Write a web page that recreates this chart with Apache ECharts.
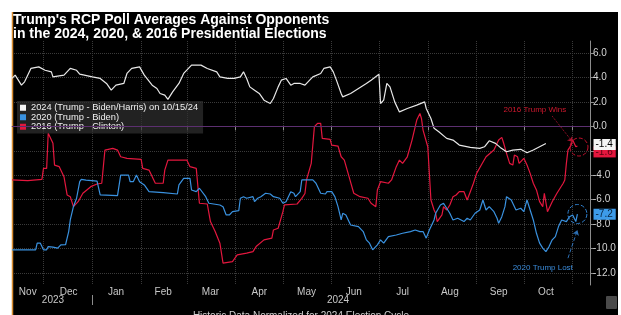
<!DOCTYPE html>
<html>
<head>
<meta charset="utf-8">
<title>Trump RCP Poll Averages</title>
<script src="https://cdn.jsdelivr.net/npm/echarts@6/dist/echarts.min.js"></script>
<style>
html, body { margin: 0; padding: 0; background: #fff; }
#chart { width: 621px; height: 315px; }
</style>
</head>
<body>
<div id="chart"></div>
<script>
// values, normalised to the 2024 calendar
var trump2024 = [
    ['2023-11-11', 3.93], ['2023-11-13', 4.2], ['2023-11-17', 3.38], ['2023-11-19', 3.65], ['2023-11-23', 4.75],
    ['2023-11-28', 4.88], ['2023-12-02', 4.6], ['2023-12-06', 4.47], ['2023-12-07', 4.06], ['2023-12-14', 4.2],
    ['2023-12-18', 4.75], ['2023-12-22', 4.6], ['2023-12-24', 4.28], ['2024-01-01', 4.06], ['2024-01-06', 3.93],
    ['2024-01-10', 3.52], ['2024-01-13', 2.97], ['2024-01-16', 3.38], ['2024-01-21', 3.52], ['2024-01-23', 4.34],
    ['2024-01-26', 4.75], ['2024-01-31', 4.88], ['2024-02-01', 5.02], ['2024-02-03', 4.2], ['2024-02-08', 3.38],
    ['2024-02-11', 3.11], ['2024-02-13', 2.7], ['2024-02-16', 2.56], ['2024-02-18', 2.21], ['2024-02-21', 2.83],
    ['2024-02-25', 3.52], ['2024-02-28', 4.34], ['2024-03-04', 5.02], ['2024-03-10', 5.02], ['2024-03-14', 4.75],
    ['2024-03-20', 4.47], ['2024-03-22', 4.06], ['2024-03-27', 3.93], ['2024-03-31', 3.93], ['2024-04-04', 4.06],
    ['2024-04-06', 4.47], ['2024-04-08', 3.93], ['2024-04-10', 3.24], ['2024-04-13', 2.97], ['2024-04-16', 2.7],
    ['2024-04-19', 2.15], ['2024-04-23', 1.88], ['2024-04-25', 2.29], ['2024-04-28', 3.24], ['2024-04-30', 3.79],
    ['2024-05-03', 3.93], ['2024-05-06', 3.38], ['2024-05-08', 3.52], ['2024-05-12', 3.52], ['2024-05-15', 3.38],
    ['2024-05-18', 3.79], ['2024-05-20', 4.06], ['2024-05-25', 4.34], ['2024-05-27', 4.75], ['2024-05-31', 4.88],
    ['2024-06-02', 4.47], ['2024-06-04', 3.79], ['2024-06-07', 2.7], ['2024-06-08', 2.42], ['2024-06-13', 2.7],
    ['2024-06-18', 3.11], ['2024-06-23', 3.52], ['2024-06-26', 3.79], ['2024-07-01', 4.28], ['2024-07-02', 1.88],
    ['2024-07-04', 2.15], ['2024-07-06', 3.52], ['2024-07-08', 3.24], ['2024-07-11', 2.01], ['2024-07-14', 1.19],
    ['2024-07-19', 1.47], ['2024-07-25', 1.74], ['2024-07-30', 2.01], ['2024-07-31', 1.47], ['2024-08-03', 0.65],
    ['2024-08-05', -0.16], ['2024-08-08', -0.44], ['2024-08-13', -0.98], ['2024-08-17', -1.12], ['2024-08-21', -1.53],
    ['2024-08-28', -1.72], ['2024-09-03', -1.8], ['2024-09-06', -1.67], ['2024-09-09', -1.18], ['2024-09-13', -1.39],
    ['2024-09-16', -1.72], ['2024-09-20', -2.08], ['2024-09-24', -1.94], ['2024-09-29', -1.88], ['2024-10-03', -2.16],
    ['2024-10-07', -1.94], ['2024-10-11', -1.67], ['2024-10-15', -1.4]
];

var trump2020 = [
    ['2023-11-11', -10.12], ['2023-11-26', -10.12], ['2023-11-27', -9.57], ['2023-11-29', -9.57], ['2023-12-01', -10.12],
    ['2023-12-03', -10.12], ['2023-12-04', -9.85], ['2023-12-07', -9.9], ['2023-12-10', -9.98], ['2023-12-12', -9.71],
    ['2023-12-15', -9.7], ['2023-12-16', -9.16], ['2023-12-17', -8.62], ['2023-12-18', -7.67], ['2023-12-20', -6.58],
    ['2023-12-22', -5.89], ['2023-12-24', -4.53], ['2023-12-25', -4.34], ['2023-12-28', -4.4], ['2024-01-04', -4.48],
    ['2024-01-06', -5.62], ['2024-01-17', -5.68], ['2024-01-19', -3.99], ['2024-01-24', -3.99], ['2024-01-25', -4.53],
    ['2024-01-27', -4.53], ['2024-01-29', -3.99], ['2024-01-30', -4.1], ['2024-01-31', -4.53], ['2024-02-03', -4.8],
    ['2024-02-06', -5.35], ['2024-02-15', -5.43], ['2024-02-24', -5.54], ['2024-02-25', -4.8], ['2024-02-28', -4.26],
    ['2024-03-03', -4.26], ['2024-03-04', -5.21], ['2024-03-07', -5.35], ['2024-03-09', -5.07], ['2024-03-13', -5.76],
    ['2024-03-15', -6.3], ['2024-03-22', -6.44], ['2024-03-24', -6.58], ['2024-03-26', -7.26], ['2024-03-28', -7.26],
    ['2024-03-30', -6.99], ['2024-04-03', -6.9], ['2024-04-04', -5.89], ['2024-04-06', -5.76], ['2024-04-08', -5.89],
    ['2024-04-12', -5.76], ['2024-04-13', -6.17], ['2024-04-15', -5.89], ['2024-04-17', -5.76], ['2024-04-20', -5.48],
    ['2024-04-23', -5.54], ['2024-04-25', -5.76], ['2024-04-29', -5.89], ['2024-05-01', -6.3], ['2024-05-03', -6.17],
    ['2024-05-06', -5.35], ['2024-05-08', -5.48], ['2024-05-09', -5.76], ['2024-05-10', -5.62], ['2024-05-12', -5.35],
    ['2024-05-13', -4.39], ['2024-05-20', -4.39], ['2024-05-22', -4.66], ['2024-05-25', -5.48], ['2024-05-28', -5.54],
    ['2024-05-29', -5.35], ['2024-06-01', -5.35], ['2024-06-03', -5.76], ['2024-06-05', -6.58], ['2024-06-07', -7.67],
    ['2024-06-08', -7.12], ['2024-06-10', -7.26], ['2024-06-13', -8.08], ['2024-06-18', -8.21], ['2024-06-21', -8.62],
    ['2024-06-23', -9.3], ['2024-06-25', -9.57], ['2024-06-27', -10.12], ['2024-06-30', -9.71], ['2024-07-02', -9.3],
    ['2024-07-04', -9.57], ['2024-07-07', -9.03], ['2024-07-12', -8.9], ['2024-07-16', -8.76], ['2024-07-21', -8.62],
    ['2024-07-24', -8.49], ['2024-07-27', -8.62], ['2024-07-29', -8.62], ['2024-07-31', -9.16], ['2024-08-02', -8.49],
    ['2024-08-05', -7.67], ['2024-08-06', -7.12], ['2024-08-09', -6.44], ['2024-08-11', -6.3], ['2024-08-13', -6.71],
    ['2024-08-15', -7.12], ['2024-08-17', -7.67], ['2024-08-20', -7.53], ['2024-08-24', -7.8], ['2024-08-26', -7.53],
    ['2024-08-28', -7.67], ['2024-08-31', -7.12], ['2024-09-03', -6.85], ['2024-09-05', -6.03], ['2024-09-07', -6.85],
    ['2024-09-09', -6.58], ['2024-09-12', -6.99], ['2024-09-14', -7.53], ['2024-09-15', -7.94], ['2024-09-17', -7.4],
    ['2024-09-19', -6.58], ['2024-09-20', -5.76], ['2024-09-23', -6.03], ['2024-09-26', -6.85], ['2024-09-29', -6.71],
    ['2024-10-01', -6.99], ['2024-10-03', -6.03], ['2024-10-05', -6.85], ['2024-10-07', -7.67], ['2024-10-09', -8.76],
    ['2024-10-11', -9.57], ['2024-10-13', -9.98], ['2024-10-15', -10.26], ['2024-10-17', -9.85], ['2024-10-19', -9.3],
    ['2024-10-21', -9.03], ['2024-10-23', -8.21], ['2024-10-25', -7.67], ['2024-10-28', -7.8], ['2024-10-30', -7.4],
    ['2024-11-01', -7.26], ['2024-11-03', -7.8], ['2024-11-04', -7.2]
];

var trump2016 = [
    ['2023-11-11', -4.39], ['2023-11-21', -4.45], ['2023-11-30', -4.34], ['2023-12-01', -3.44], ['2023-12-03', -3.44],
    ['2023-12-04', -0.57], ['2023-12-05', -0.7], ['2023-12-07', -1.39], ['2023-12-08', -3.17], ['2023-12-11', -3.3],
    ['2023-12-14', -4.12], ['2023-12-16', -5.62], ['2023-12-18', -5.76], ['2023-12-20', -6.58], ['2023-12-23', -6.17],
    ['2023-12-26', -5.48], ['2023-12-31', -4.94], ['2024-01-04', -4.72], ['2024-01-07', -4.66], ['2024-01-09', -1.94],
    ['2024-01-14', -1.8], ['2024-01-17', -1.94], ['2024-01-19', -2.49], ['2024-01-23', -2.62], ['2024-02-01', -2.7],
    ['2024-02-02', -3.44], ['2024-02-06', -3.58], ['2024-02-10', -4.66], ['2024-02-15', -4.66], ['2024-02-16', -3.58],
    ['2024-02-18', -2.76], ['2024-03-01', -2.76], ['2024-03-03', -3.3], ['2024-03-07', -3.44], ['2024-03-09', -6.3],
    ['2024-03-14', -6.36], ['2024-03-16', -7.8], ['2024-03-19', -8.62], ['2024-03-22', -9.57], ['2024-03-24', -11.21],
    ['2024-03-30', -11.08], ['2024-04-02', -10.53], ['2024-04-08', -10.39], ['2024-04-12', -10.26], ['2024-04-14', -9.85],
    ['2024-04-19', -9.3], ['2024-04-24', -9.16], ['2024-04-25', -8.49], ['2024-04-28', -8.35], ['2024-05-01', -6.99],
    ['2024-05-02', -6.44], ['2024-05-10', -6.36], ['2024-05-13', -5.9], ['2024-05-15', -5.5], ['2024-05-16', -4.39],
    ['2024-05-19', -3.03], ['2024-05-21', -0.03], ['2024-05-23', 0.25], ['2024-05-25', 0.25], ['2024-05-26', -0.98],
    ['2024-05-31', -1.07], ['2024-06-01', -1.53], ['2024-06-05', -1.61], ['2024-06-07', -2.49], ['2024-06-09', -2.76],
    ['2024-06-12', -4.12], ['2024-06-15', -5.48], ['2024-06-19', -5.76], ['2024-06-24', -5.89], ['2024-06-26', -6.3],
    ['2024-06-29', -6.58], ['2024-06-30', -5.21], ['2024-07-02', -4.53], ['2024-07-07', -4.66], ['2024-07-09', -4.39],
    ['2024-07-12', -3.3], ['2024-07-14', -2.76], ['2024-07-16', -3.03], ['2024-07-19', -2.49], ['2024-07-22', -1.12],
    ['2024-07-25', 0.52], ['2024-07-27', 1.06], ['2024-07-28', 0.65], ['2024-07-29', -0.3], ['2024-08-01', -1.67],
    ['2024-08-02', -3.85], ['2024-08-03', -6.03], ['2024-08-05', -6.85], ['2024-08-06', -7.12], ['2024-08-07', -7.8],
    ['2024-08-10', -7.26], ['2024-08-11', -6.58], ['2024-08-13', -6.85], ['2024-08-15', -6.44], ['2024-08-17', -5.76],
    ['2024-08-19', -5.62], ['2024-08-21', -5.35], ['2024-08-24', -5.35], ['2024-08-26', -6.03], ['2024-08-28', -5.35],
    ['2024-08-30', -4.66], ['2024-09-01', -3.85], ['2024-09-04', -3.17], ['2024-09-07', -2.49], ['2024-09-12', -1.94],
    ['2024-09-15', -1.12], ['2024-09-17', -0.9], ['2024-09-18', -1.3], ['2024-09-20', -2.21], ['2024-09-22', -3.03],
    ['2024-09-24', -3.17], ['2024-09-25', -2.35], ['2024-09-27', -2.49], ['2024-09-28', -3.03], ['2024-10-01', -2.62],
    ['2024-10-03', -3.17], ['2024-10-05', -3.85], ['2024-10-07', -4.66], ['2024-10-09', -5.21], ['2024-10-11', -6.17],
    ['2024-10-13', -6.58], ['2024-10-14', -5.48], ['2024-10-16', -6.99], ['2024-10-19', -6.17], ['2024-10-22', -5.48],
    ['2024-10-26', -4.66], ['2024-10-27', -4.39], ['2024-10-28', -3.03], ['2024-10-29', -1.94], ['2024-10-31', -1.53],
    ['2024-11-01', -1.12], ['2024-11-03', -1.67], ['2024-11-04', -1.6]
];

// last values shown in the boxes on the right axis
var lastValues = { y2024: -1.4, y2020: -7.2, y2016: -1.6 };

// month labels sit in the middle of each month, year labels underneath
var monthLabels = [
    ['2023-11-21', 'Nov'], ['2023-12-17', 'Dec'], ['2024-01-16', 'Jan'], ['2024-02-15', 'Feb'],
    ['2024-03-16', 'Mar'], ['2024-04-16', 'Apr'], ['2024-05-16', 'May'], ['2024-06-15', 'Jun'],
    ['2024-07-16', 'Jul'], ['2024-08-15', 'Aug'], ['2024-09-15', 'Sep'], ['2024-10-15', 'Oct']
];
var yearLabels = [['2023-12-07', '2023'], ['2024-06-05', '2024']];
var yTicks = [-12, -10, -8, -6, -4, -2, 0, 2, 4, 6];

// one category per day, from 2023-11-11 to 2024-11-12
var days = [];
var start = Date.UTC(2023, 10, 11);
for (var i = 0; i < 368; i++) {
    days.push(new Date(start + i * 86400000).toISOString().slice(0, 10));
}
var lastDay = days[days.length - 1];

var toMap = function(list){
    var m = {};
    for (var k = 0; k < list.length; k++) m[list[k][0]] = list[k][1];
    return m;
};
var monthMap = toMap(monthLabels);
var yearMap = toMap(yearLabels);

var isMonthStart = function(idx, v){ return v.slice(8) === '01'; };
var isYearStart = function(idx, v){ return v.slice(5) === '01-01'; };

var fontSans = '"Liberation Sans", Arial, sans-serif';
var axisGrey = '#8c8c8c';
var gridGrey = '#3a3a3a';

var endLabel = function(value, bg, fg, offsetY, z){
    return {
        coord: [lastDay, value],
        value: value,
        symbol: 'rect',
        symbolSize: 1,
        itemStyle: { color: 'rgba(0,0,0,0)' },
        z: z,
        label: {
            show: true,
            position: 'right',
            distance: 3,
            offset: [0, offsetY],
            formatter: value.toFixed(1),
            backgroundColor: bg,
            color: fg,
            fontSize: 10,
            fontFamily: fontSans,
            padding: [1, 3, 0, 2]
        }
    };
};

var chart = echarts.init(document.getElementById('chart'));

var option = {
    backgroundColor: '#000',
    animation: false,
    textStyle: { fontFamily: fontSans },
    title: {
        text: "Trump's RCP Poll Averages Against Opponents\nin the 2024, 2020, & 2016 Presidential Elections",
        left: 13,
        top: 13,
        padding: 0,
        textStyle: {
            color: '#ffffff',
            fontFamily: fontSans,
            fontWeight: 'bold',
            fontSize: 14,
            lineHeight: 14
        }
    },
    legend: {
        orient: 'vertical',
        left: 17,
        top: 101,
        itemWidth: 6,
        itemHeight: 6,
        itemGap: 0,
        icon: 'rect',
        padding: [2, 5, 2, 3],
        backgroundColor: 'rgba(48,48,48,0.7)',
        textStyle: { color: '#f0f0f0', fontSize: 9.3, lineHeight: 9.5, fontFamily: fontSans },
        data: [
            '2024 (Trump - Biden/Harris) on 10/15/24',
            '2020 (Trump - Biden)',
            '2016 (Trump - Clinton)'
        ]
    },
    grid: { left: 12, right: 31, top: 41, bottom: 30, outerBoundsMode: 'none' },
    xAxis: [{
        type: 'category',
        data: days,
        boundaryGap: false,
        axisLine: { lineStyle: { color: axisGrey } },
        axisTick: { interval: isMonthStart, length: 4, lineStyle: { color: axisGrey } },
        axisLabel: {
            interval: function(idx, v){ return monthMap[v] !== undefined; },
            formatter: function(v){ return monthMap[v]; },
            color: '#c8c8c8',
            fontSize: 10,
            margin: 2
        },
        splitLine: { show: true, interval: isMonthStart, lineStyle: { color: gridGrey, type: 'dotted' } }
    }, {
        type: 'category',
        data: days,
        boundaryGap: false,
        position: 'bottom',
        offset: 10,
        axisLine: { show: false },
        axisTick: { interval: isYearStart, length: 10, lineStyle: { color: axisGrey } },
        axisLabel: {
            interval: function(idx, v){ return yearMap[v] !== undefined; },
            formatter: function(v){ return yearMap[v]; },
            color: '#c8c8c8',
            fontSize: 10,
            margin: 0
        },
        splitLine: { show: false },
        name: 'Historic Data Normalized for 2024 Election Cycle',
        nameLocation: 'middle',
        nameGap: 16,
        nameTextStyle: { color: '#cfcfcf', fontSize: 10, fontFamily: fontSans }
    }],
    yAxis: {
        type: 'value',
        position: 'right',
        min: -13,
        max: 7,
        axisLine: { show: true, lineStyle: { color: axisGrey } },
        axisTick: { show: true, length: 4, customValues: yTicks, lineStyle: { color: axisGrey } },
        axisLabel: {
            customValues: yTicks,
            formatter: function(v){ return v.toFixed(1); },
            color: '#d4d4d4',
            fontSize: 10,
            margin: 3
        },
        splitLine: { show: true, lineStyle: { color: gridGrey, type: 'dotted' } }
    },
    graphic: [
        { type: 'rect', shape: { x: 0, y: 0, width: 621, height: 12 }, style: { fill: '#fff' }, z: 0 },
        { type: 'rect', shape: { x: 0, y: 0, width: 12, height: 315 }, style: { fill: '#fff' }, z: 0 },
        { type: 'rect', shape: { x: 618, y: 0, width: 3, height: 315 }, style: { fill: '#fff' }, z: 0 },
        { type: 'line', shape: { x1: 12.5, y1: 12, x2: 12.5, y2: 315 }, style: { stroke: '#d88a2c', lineWidth: 1.5 }, z: 1 },
        { type: 'rect', shape: { x: 606, y: 296, width: 11, height: 13, r: 1 }, style: { fill: '#4a4a4a' }, z: 1 }
    ],
    series: [{
        name: '2016 (Trump - Clinton)',
        type: 'line',
        data: trump2016,
        symbol: 'none',
        color: '#e3173e',
        lineStyle: { width: 1.2, color: '#e3173e' },
        z: 3,
        markLine: {
            silent: true,
            symbol: ['none', 'arrow'],
            symbolSize: 5,
            label: { show: false },
            lineStyle: { color: '#b0122e', type: 'dotted', width: 1 },
            data: [[{ coord: ['2024-10-19', 0.84] }, { coord: ['2024-11-01', -1.28] }]]
        },
        markPoint: {
            silent: true,
            data: [
                endLabel(lastValues.y2016, '#e3173e', '#5a0010', 6, 4),
                {
                    coord: ['2024-11-05', -1.69], symbol: 'circle', symbolSize: 18,
                    itemStyle: { color: 'rgba(0,0,0,0)', borderColor: '#c0102c', borderWidth: 1, borderType: 'dashed' },
                    label: { show: false }
                },
                {
                    coord: ['2024-10-08', 1.33], symbol: 'rect', symbolSize: 1,
                    itemStyle: { color: 'rgba(0,0,0,0)' },
                    label: { show: true, position: 'inside', formatter: '2016 Trump Wins', color: '#d0182e', fontSize: 8 }
                }
            ]
        }
    }, {
        name: '2020 (Trump - Biden)',
        type: 'line',
        data: trump2020,
        symbol: 'none',
        color: '#3a92e0',
        lineStyle: { width: 1.2, color: '#3a92e0' },
        z: 3,
        markLine: {
            silent: true,
            symbol: ['none', 'arrow'],
            symbolSize: 5,
            label: { show: false },
            lineStyle: { color: '#2c6fb4', type: 'dashed', width: 1 },
            data: [[{ coord: ['2024-10-29', -10.8] }, { coord: ['2024-11-04', -8.5] }]]
        },
        markPoint: {
            silent: true,
            data: [
                endLabel(lastValues.y2020, '#3d9be9', '#08243f', 0, 4),
                {
                    coord: ['2024-11-04', -7.18], symbol: 'circle', symbolSize: 19,
                    itemStyle: { color: 'rgba(0,0,0,0)', borderColor: '#2e7fcc', borderWidth: 1, borderType: 'dashed' },
                    label: { show: false }
                },
                {
                    coord: ['2024-10-13', -11.6], symbol: 'rect', symbolSize: 1,
                    itemStyle: { color: 'rgba(0,0,0,0)' },
                    label: { show: true, position: 'inside', formatter: '2020 Trump Lost', color: '#3a8ad8', fontSize: 8 }
                }
            ]
        }
    }, {
        name: '2024 (Trump - Biden/Harris) on 10/15/24',
        type: 'line',
        data: trump2024,
        symbol: 'none',
        color: '#f4f4f4',
        lineStyle: { width: 1.2, color: '#e8e8e8' },
        z: 4,
        markLine: {
            silent: true,
            symbol: 'none',
            label: { show: false },
            lineStyle: { color: '#5c2f70', type: 'solid', width: 1 },
            data: [{ yAxis: 0 }]
        },
        markPoint: {
            silent: true,
            data: [endLabel(lastValues.y2024, '#f4f4f4', '#000', 1, 6)]
        }
    }]
};

chart.setOption(option);
</script>
</body>
</html>
